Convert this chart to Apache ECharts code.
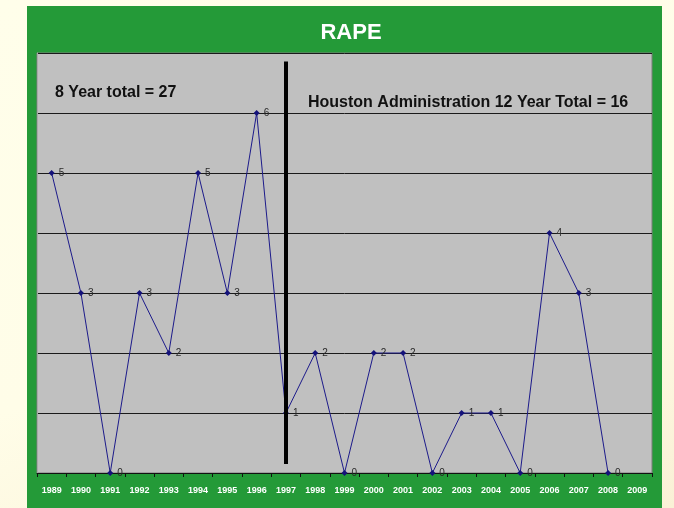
<!DOCTYPE html>
<html>
<head>
<meta charset="utf-8">
<script src="https://cdn.jsdelivr.net/npm/echarts@6/dist/echarts.min.js"></script>
<style>
  html, body { margin: 0; padding: 0; }
  body { background: linear-gradient(160deg, #fffeea 0%, #fffde8 55%, #faf1d6 100%); }
  #rape { width: 674px; height: 508px; }
</style>
</head>
<body>
<div id="rape"></div>
<script>
// 数据
var years = ['1989', '1990', '1991', '1992', '1993', '1994', '1995', '1996', '1997', '1998',
             '1999', '2000', '2001', '2002', '2003', '2004', '2005', '2006', '2007', '2008', '2009'];
var rapeCounts = [5, 3, 0, 3, 2, 5, 3, 6, 1, 2, 0, 2, 2, 0, 1, 1, 0, 4, 3, 0, null];
var yTicks = [0, 1, 2, 3, 4, 5, 6, 7];
// 分隔线 (1997 年)
var dividerYear = '1997';
var dividerRange = [0.15, 6.86];

var chartTitle = 'RAPE';
var leftNote = '8 Year total = 27';
var rightNote = 'Houston Administration 12 Year Total = 16';

function initChart() {
    var myChart = echarts.init(document.getElementById('rape'));
    var font = 'Arial, "Liberation Sans", sans-serif';

    var option = {
        backgroundColor: 'transparent',
        animation: false,
        graphic: [
            {
                type: 'rect',
                z: -10,
                shape: { x: 27, y: 6, width: 635, height: 510 },
                style: { fill: '#249a38' }
            },
            {
                type: 'text',
                z: 10,
                style: {
                    text: chartTitle, x: 351, y: 33,
                    fill: '#fff', font: 'bold 22px ' + font,
                    textAlign: 'center', textVerticalAlign: 'middle'
                }
            },
            {
                type: 'text',
                z: 10,
                style: {
                    text: leftNote, x: 55, y: 93,
                    fill: '#111', font: 'bold 16px ' + font,
                    textVerticalAlign: 'middle'
                }
            },
            {
                type: 'text',
                z: 10,
                style: {
                    text: rightNote, x: 308, y: 103,
                    fill: '#111', font: 'bold 16px ' + font,
                    textVerticalAlign: 'middle'
                }
            }
        ],
        grid: {
            left: 37,
            right: 22,
            top: 53,
            bottom: 35,
            show: true,
            backgroundColor: '#c0c0c0',
            borderColor: '#7c7c7c',
            borderWidth: 1
        },
        xAxis: {
            type: 'category',
            data: years,
            boundaryGap: true,
            axisLine: { lineStyle: { color: '#111', width: 1 } },
            axisTick: { show: true, length: 4, lineStyle: { color: '#111' } },
            axisLabel: {
                color: '#fff', fontSize: 9, fontWeight: 'bold',
                fontFamily: font, margin: 13, interval: 0
            },
            splitLine: { show: false }
        },
        yAxis: {
            type: 'value',
            min: yTicks[0],
            max: yTicks[yTicks.length - 1],
            interval: 1,
            axisLine: { show: true, lineStyle: { color: '#a8a8a8' } },
            axisTick: { show: false },
            axisLabel: { show: false },
            splitLine: { show: true, lineStyle: { color: '#1a1a1a', width: 1 } }
        },
        series: [{
            type: 'line',
            data: rapeCounts,
            symbol: 'diamond',
            symbolSize: 6,
            connectNulls: false,
            lineStyle: { color: '#1c1a8a', width: 1 },
            itemStyle: { color: '#14127a' },
            label: {
                show: true,
                position: 'right',
                distance: 4,
                fontSize: 10,
                color: '#2a2a2a',
                fontFamily: font
            },
            markLine: {
                silent: true,
                symbol: ['none', 'none'],
                label: { show: false },
                lineStyle: { color: '#000', width: 4, type: 'solid' },
                data: [[
                    { coord: [dividerYear, dividerRange[0]] },
                    { coord: [dividerYear, dividerRange[1]] }
                ]]
            }
        }]
    };

    myChart.setOption(option);
}

initChart();
</script>
</body>
</html>
